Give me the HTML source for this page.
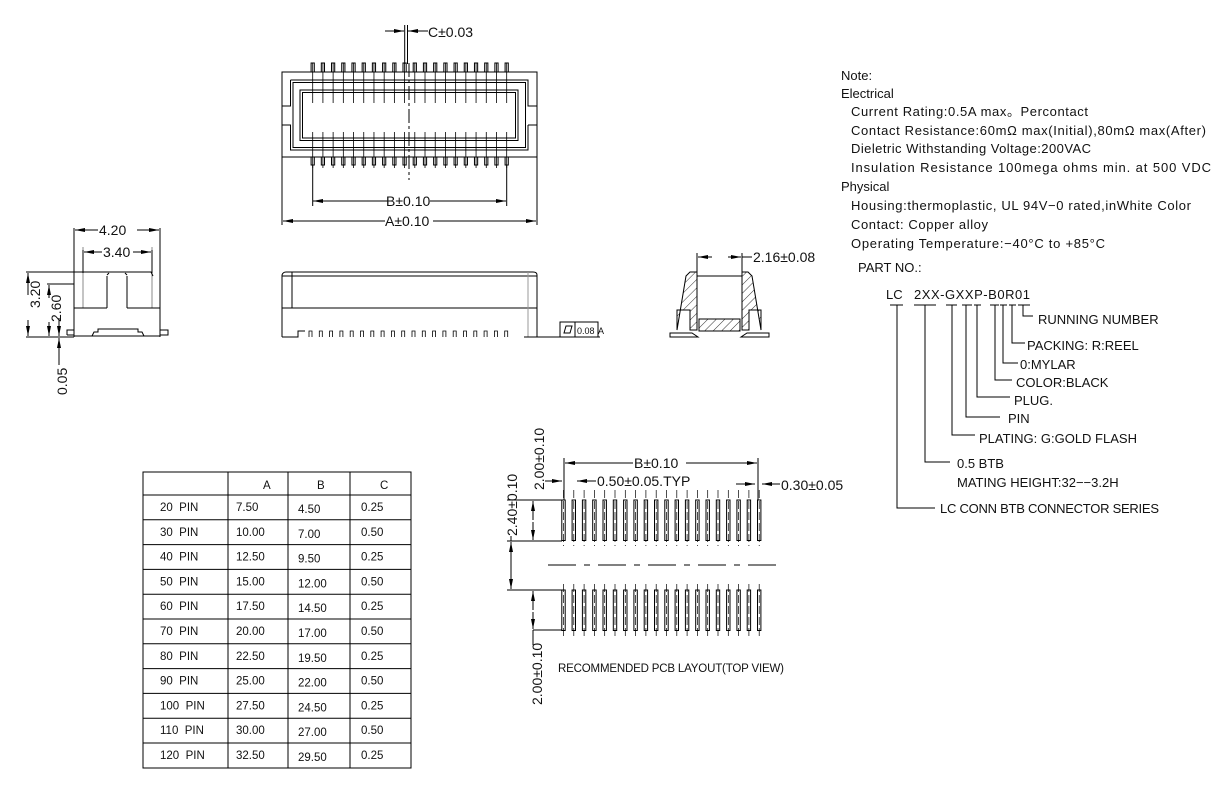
<!DOCTYPE html>
<html><head><meta charset="utf-8"><style>
html,body{margin:0;padding:0;background:#fff;}
svg{display:block;}
text{font-family:"Liberation Sans",sans-serif;fill:#111;}
</style></head><body>
<svg id="s" width="1215" height="785" viewBox="0 0 1215 785" xmlns="http://www.w3.org/2000/svg">
<defs>
<marker id="a" markerWidth="10" markerHeight="6" refX="10" refY="3" orient="auto" markerUnits="userSpaceOnUse"><path d="M0,1 L10,3 L0,5 z" fill="#000"/></marker>
<pattern id="h" width="6" height="6" patternUnits="userSpaceOnUse" patternTransform="rotate(45)"><line x1="0" y1="0" x2="0" y2="6" stroke="#000" stroke-width="0.8"/></pattern>
</defs>
<g fill="none" stroke="#000" stroke-width="1" id="g">
<path d="M282,72 H537 V157 H282 Z"/>
<path d="M290.5,80 H528 V106 H537 M528,125 H537 M528,125 V150 H290.5 V125 H282 M282,106 H290.5 V80"/>
<rect x="293" y="82.5" width="232.5" height="65"/>
<rect x="300" y="90" width="218" height="50.5"/>
<rect x="302.5" y="92.5" width="213" height="45.5"/>
<line x1="409" y1="63" x2="409" y2="180" stroke-dasharray="14,3,3,3"/>
<line x1="404.7" y1="25" x2="404.7" y2="64"/><line x1="407.5" y1="25" x2="407.5" y2="64"/>
<line x1="385" y1="31" x2="404" y2="31" marker-end="url(#a)"/>
<line x1="428" y1="31" x2="408" y2="31" marker-end="url(#a)"/>
<line x1="312.7" y1="165" x2="312.7" y2="206"/><line x1="506.7" y1="165" x2="506.7" y2="206"/>
<line x1="390" y1="201" x2="313" y2="201" marker-end="url(#a)"/>
<line x1="430" y1="201" x2="506" y2="201" marker-end="url(#a)"/>
<line x1="282" y1="157" x2="282" y2="225"/><line x1="537" y1="157" x2="537" y2="225"/>
<line x1="385" y1="221" x2="283" y2="221" marker-end="url(#a)"/>
<line x1="433" y1="221" x2="536" y2="221" marker-end="url(#a)"/>
<path d="M282,337 V275 Q283,272 286,272 H533 Q537,272 537,275 V337"/>
<line x1="292" y1="272" x2="292" y2="308"/><line x1="282" y1="308" x2="537" y2="308"/>
<line x1="282" y1="276" x2="537" y2="276"/>
<line x1="528" y1="272" x2="528" y2="337" stroke="#999"/>
<path d="M282,337 H298 V331 H305 M524,337 H600"/>
<rect x="560" y="322" width="38" height="15"/><line x1="575" y1="322" x2="575" y2="337"/>
<path d="M564,333 L566,326 H572 L570,333 Z"/>
<line x1="74" y1="228" x2="74" y2="337"/><line x1="160" y1="228" x2="160" y2="337"/>
<line x1="98" y1="230" x2="75" y2="230" marker-end="url(#a)"/><line x1="137" y1="230" x2="159" y2="230" marker-end="url(#a)"/>
<line x1="83" y1="247" x2="83" y2="308" stroke="#888"/><line x1="152" y1="247" x2="152" y2="308" stroke="#888"/>
<line x1="83" y1="250" x2="83" y2="273"/><line x1="152" y1="250" x2="152" y2="273"/>
<line x1="102" y1="252" x2="84" y2="252" marker-end="url(#a)"/><line x1="133" y1="252" x2="151" y2="252" marker-end="url(#a)"/>
<path d="M26,272 H151 L153,276 M74,284 H47"/>
<path d="M107,276 V308 M127,276 V308 M74,308 H107 M127,308 H160"/>
<path d="M107,275 L109,273 M127,275 L125,273"/>
<path d="M67,335 H74 M74,336 H160 M160,335 H168 V330 H160 M67,335 V330 H74"/>
<path d="M92,336 L94,332 H98 V329 H138 V332 H142 L144,336"/>
<line x1="26" y1="337" x2="74" y2="337"/>
<line x1="28" y1="295" x2="28" y2="273" marker-end="url(#a)"/><line x1="28" y1="320" x2="28" y2="336" marker-end="url(#a)"/>
<line x1="49" y1="298" x2="49" y2="285" marker-end="url(#a)"/><line x1="49" y1="322" x2="49" y2="336" marker-end="url(#a)"/>
<line x1="59" y1="318" x2="59" y2="336" marker-end="url(#a)"/><line x1="59" y1="365" x2="59" y2="338" marker-end="url(#a)"/>
<line x1="697" y1="253" x2="697" y2="276"/><line x1="742" y1="253" x2="742" y2="276"/>
<line x1="712" y1="257" x2="698" y2="257" marker-end="url(#a)"/><line x1="728" y1="257" x2="741" y2="257" marker-end="url(#a)"/>
<line x1="742" y1="257" x2="752" y2="257"/>
<path d="M686,276 L690,272 H697 V330 H690 V310 H677 V330 Z" fill="url(#h)"/>
<path d="M752,276 L748,272 H742 V330 H749 V310 H761 V330 Z" fill="url(#h)"/>
<rect x="699" y="319" width="41" height="12" fill="url(#h)"/>
<line x1="697" y1="276" x2="742" y2="276"/>
<path d="M670,333 H692 L698,337 H670 Z M769,333 H747 L741,337 H769 Z"/>
<line x1="548" y1="565" x2="780" y2="565" stroke-dasharray="28,8,6,8"/>
<line x1="564" y1="458" x2="564" y2="500"/><line x1="758" y1="458" x2="758" y2="500"/>
<line x1="633" y1="463" x2="565" y2="463" marker-end="url(#a)"/><line x1="686" y1="463" x2="757" y2="463" marker-end="url(#a)"/>
<line x1="545" y1="481" x2="562" y2="481" marker-end="url(#a)"/><line x1="596" y1="481" x2="577" y2="481" marker-end="url(#a)"/>
<line x1="736" y1="484" x2="755" y2="484" marker-end="url(#a)"/><line x1="780" y1="484" x2="762" y2="484" marker-end="url(#a)"/>
<path d="M507,500 H562 M507,541 H562 M507,590 H562 M533,630 H562"/>
<line x1="533" y1="520" x2="533" y2="501" marker-end="url(#a)"/><line x1="533" y1="522" x2="533" y2="540" marker-end="url(#a)"/>
<line x1="511" y1="536" x2="511" y2="541"/>
<line x1="511" y1="566" x2="511" y2="542" marker-end="url(#a)"/><line x1="511" y1="565" x2="511" y2="589" marker-end="url(#a)"/>
<line x1="533" y1="610" x2="533" y2="591" marker-end="url(#a)"/><line x1="533" y1="612" x2="533" y2="629" marker-end="url(#a)"/>
<line x1="533" y1="630" x2="533" y2="645"/>
<rect x="143" y="472" width="268" height="296"/>
<line x1="228" y1="472" x2="228" y2="768"/><line x1="288" y1="472" x2="288" y2="768"/><line x1="350" y1="472" x2="350" y2="768"/>
<path d="M890,305 H903 M914,305 H936 M946,305 H957 M962,305 H972 M974,305 H981 M990,305 H999 M1000,305 H1007 M1009,305 H1016 M1018,305 H1030"/>
<path d="M897,305 V508 H935 M925,305 V462 H950 M952,305 V435 H975 M966,305 V417 H1000 M977,305 V397 H1010 M995,305 V380 H1012 M1003,305 V363 H1018 M1012,305 V343 H1025 M1023,305 V316 H1033"/>
</g>
<g font-size="13">
<text x="428" y="37" font-size="14">C±0.03</text>
<text x="386" y="206" font-size="14">B±0.10</text>
<text x="385" y="226" font-size="14">A±0.10</text>
<text x="99" y="235" font-size="14">4.20</text>
<text x="103" y="257" font-size="14">3.40</text>
<text transform="translate(40,308) rotate(-90)" font-size="14">3.20</text>
<text transform="translate(61,322) rotate(-90)" font-size="14">2.60</text>
<text transform="translate(67,395) rotate(-90)" font-size="14">0.05</text>
<text x="577" y="334" font-size="9">0.08</text><text x="598" y="334" font-size="9">A</text>
<text x="753" y="262" font-size="14">2.16±0.08</text>
<text x="634" y="468" font-size="14">B±0.10</text>
<text x="597" y="486" font-size="14">0.50±0.05.TYP</text>
<text x="781" y="490" font-size="14">0.30±0.05</text>
<text transform="translate(544,490) rotate(-90)" font-size="14">2.00±0.10</text>
<text transform="translate(517,536) rotate(-90)" font-size="14">2.40±0.10</text>
<text transform="translate(542,705) rotate(-90)" font-size="14">2.00±0.10</text>
<text x="558" y="672" font-size="11.5" textLength="226">RECOMMENDED PCB LAYOUT(TOP VIEW)</text>
<g font-size="13">
<text x="841" y="80">Note:</text>
<text x="841" y="98">Electrical</text>
<text x="851" y="116" textLength="237">Current Rating:0.5A max。Percontact</text>
<text x="851" y="135" textLength="355">Contact Resistance:60mΩ max(Initial),80mΩ max(After)</text>
<text x="851" y="153" textLength="240">Dieletric Withstanding Voltage:200VAC</text>
<text x="851" y="172" textLength="360">Insulation Resistance 100mega ohms min. at 500 VDC</text>
<text x="841" y="191">Physical</text>
<text x="851" y="210" textLength="340">Housing:thermoplastic, UL 94V−0 rated,inWhite Color</text>
<text x="851" y="229" textLength="137">Contact: Copper alloy</text>
<text x="851" y="248" textLength="254">Operating Temperature:−40°C to +85°C</text>
<text x="858" y="272">PART NO.:</text>
<text x="886" y="299" fill="#7a4a10">LC</text>
<text x="914" y="299" textLength="116">2XX-GXXP-B0R01</text>
<text x="1038" y="324">RUNNING NUMBER</text>
<text x="1027" y="350">PACKING: R:REEL</text>
<text x="1020" y="369">0:MYLAR</text>
<text x="1016" y="387">COLOR:BLACK</text>
<text x="1014" y="405">PLUG.</text>
<text x="1008" y="423">PIN</text>
<text x="979" y="443">PLATING: G:GOLD FLASH</text>
<text x="957" y="468">0.5 BTB</text>
<text x="957" y="487">MATING HEIGHT:32−−3.2H</text>
<text x="940" y="513" textLength="219">LC CONN BTB CONNECTOR SERIES</text>
</g>
</g>
<g id="tb" font-size="11.5"></g>
</svg>
<script>
var s=document.getElementById('g'),ns="http://www.w3.org/2000/svg";
function el(t,a,p){var e=document.createElementNS(ns,t);for(var k in a)e.setAttribute(k,a[k]);(p||s).appendChild(e);return e;}
for(var i=0;i<20;i++){var x=312.7+i*10.21;
el('rect',{x:x-1.6,y:63,width:3.2,height:9});el('line',{x1:x,y1:63,x2:x,y2:103,'stroke-width':0.8});
el('rect',{x:x-1.6,y:157,width:3.2,height:8});el('line',{x1:x,y1:132,x2:x,y2:168,'stroke-width':0.8});
}
for(var i=0;i<20;i++){var x=309+i*10.3;el('path',{d:'M'+x+',337 V331 H'+(x+3)+' V337','stroke-width':0.8});}
for(var i=0;i<20;i++){var x=563.5+i*10.3;
el('rect',{x:x-1.7,y:500,width:3.4,height:40.5});el('line',{x1:x,y1:490,x2:x,y2:546,'stroke-width':0.7,'stroke-dasharray':'8,3'});
el('rect',{x:x-1.7,y:590,width:3.4,height:40.5});el('line',{x1:x,y1:584,x2:x,y2:638,'stroke-width':0.7,'stroke-dasharray':'8,3'});
}
var tb=document.getElementById('tb');
var rows=[["","A","B","C"],["20  PIN","7.50","4.50","0.25"],["30  PIN","10.00","7.00","0.50"],["40  PIN","12.50","9.50","0.25"],["50  PIN","15.00","12.00","0.50"],["60  PIN","17.50","14.50","0.25"],["70  PIN","20.00","17.00","0.50"],["80  PIN","22.50","19.50","0.25"],["90  PIN","25.00","22.00","0.50"],["100  PIN","27.50","24.50","0.25"],["110  PIN","30.00","27.00","0.50"],["120  PIN","32.50","29.50","0.25"]];
var cx=[160,236,298,361];
for(var r=0;r<rows.length;r++){var y=(r==0?472:495+(r-1)*24.8);
if(r>0)el('line',{x1:143,y1:y,x2:411,y2:y});
for(var c=0;c<4;c++){var t=el('text',{x:(r==0?[0,263,317,380][c]:cx[c]),y:y+(r==0?17:16)+(c==2&&r>0?2:0)},tb);t.textContent=rows[r][c].replace('  ','\u00a0\u00a0');}}
</script>
</body></html>
